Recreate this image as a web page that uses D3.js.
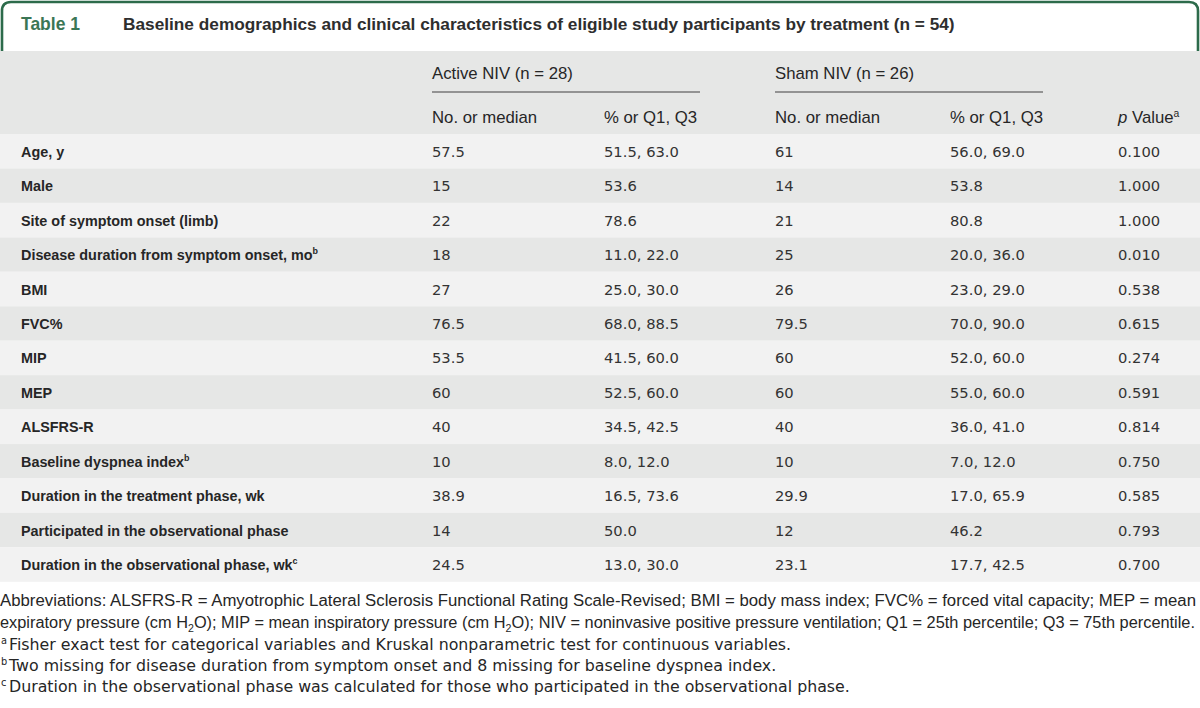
<!DOCTYPE html>
<html><head><meta charset="utf-8">
<script src="https://cdn.jsdelivr.net/npm/d3@7"></script>
<style>body{margin:0;background:#fff}svg{display:block}</style>
</head><body>
<svg id="c" width="1200" height="708"></svg>
<script>
// ---------- data ----------
const tableLabel = "Table 1";
const tableTitle = "Baseline demographics and clinical characteristics of eligible study participants by treatment (n = 54)";
const groups = ["Active NIV (n = 28)", "Sham NIV (n = 26)"];
const columns = ["No. or median", "% or Q1, Q3", "No. or median", "% or Q1, Q3", "p Value"];
const labels = ["Age, y", "Male", "Site of symptom onset (limb)", "Disease duration from symptom onset, mo", "BMI", "FVC%", "MIP", "MEP", "ALSFRS-R", "Baseline dyspnea index", "Duration in the treatment phase, wk", "Participated in the observational phase", "Duration in the observational phase, wk"];
const labelSup = ["", "", "", "b", "", "", "", "", "", "b", "", "", "c"];
const activeNo = ["57.5", "15", "22", "18", "27", "76.5", "53.5", "60", "40", "10", "38.9", "14", "24.5"];
const activePct = ["51.5, 63.0", "53.6", "78.6", "11.0, 22.0", "25.0, 30.0", "68.0, 88.5", "41.5, 60.0", "52.5, 60.0", "34.5, 42.5", "8.0, 12.0", "16.5, 73.6", "50.0", "13.0, 30.0"];
const shamNo = ["61", "14", "21", "25", "26", "79.5", "60", "60", "40", "10", "29.9", "12", "23.1"];
const shamPct = ["56.0, 69.0", "53.8", "80.8", "20.0, 36.0", "23.0, 29.0", "70.0, 90.0", "52.0, 60.0", "55.0, 60.0", "36.0, 41.0", "7.0, 12.0", "17.0, 65.9", "46.2", "17.7, 42.5"];
const pValues = ["0.100", "1.000", "1.000", "0.010", "0.538", "0.615", "0.274", "0.591", "0.814", "0.750", "0.585", "0.793", "0.700"];
const abbrevLines = [
  ["Abbreviations: ALSFRS-R = Amyotrophic Lateral Sclerosis Functional Rating Scale-Revised; BMI = body mass index; FVC% = forced vital capacity; MEP = mean"],
  ["expiratory pressure (cm H", "2", "O); MIP = mean inspiratory pressure (cm H", "2", "O); NIV = noninvasive positive pressure ventilation; Q1 = 25th percentile; Q3 = 75th percentile."]
];
const noteMarks = ["a", "b", "c"];
const notes = [
  "Fisher exact test for categorical variables and Kruskal nonparametric test for continuous variables.",
  "Two missing for disease duration from symptom onset and 8 missing for baseline dyspnea index.",
  "Duration in the observational phase was calculated for those who participated in the observational phase."
];

// ---------- helpers ----------
const ctx = document.createElement("canvas").getContext("2d");
function fitSize(family, weight, text, target, base = 15) {
  ctx.font = `${weight} ${base}px ${family}`;
  return base * target / ctx.measureText(text).width;
}
const F_BOLD = "'Liberation Sans', Arial, sans-serif";
const F_VAL = "'DejaVu Sans', sans-serif";
const F_NARROW = "'Liberation Sans', Arial, sans-serif";
const F_NOTE = "'Liberation Sans', Arial, sans-serif";

const labelSize = fitSize(F_BOLD, "bold", "Disease duration from symptom onset, mo", 292);
const valSize = fitSize(F_VAL, "normal", "56.0, 69.0", 75);
const headSize = fitSize(F_NARROW, "normal", "Active NIV (n = 28)", 141);
const titleSize = fitSize(F_BOLD, "bold", tableTitle, 832);
const tagSize = fitSize(F_BOLD, "bold", tableLabel, 59);
const noteSize = fitSize(F_VAL, "normal", notes[0], 783);

const svg = d3.select("#c");
const W = 1200;
const green = "#2d6b4b";
const dark = "#e6e7e6", light = "#f2f2f2", txt = "#262626";

// ---------- scales ----------
const headTop = 51, bodyTop = 134, rowH = 34.45;
const y = d3.scaleBand().domain(d3.range(labels.length))
  .range([bodyTop, bodyTop + rowH * labels.length]).paddingInner(0).paddingOuter(0);
const x = d3.scaleOrdinal().domain(["label", "aNo", "aPct", "sNo", "sPct", "p"])
  .range([21, 432, 604, 775, 950, 1118]);

// ---------- frame ----------
const r = 9;
svg.append("path")
  .attr("d", `M2,${headTop} L2,${2 + r} Q2,2 ${2 + r},2 L${W - 2 - r},2 Q${W - 2},2 ${W - 2},${2 + r} L${W - 2},${headTop}`)
  .attr("fill", "none").attr("stroke", green).attr("stroke-width", 2.6);

svg.append("text").attr("x", 21).attr("y", 30)
  .attr("font-family", F_BOLD).attr("font-weight", "bold").attr("font-size", tagSize)
  .attr("fill", "#3b7655").text(tableLabel);
svg.append("text").attr("x", 123).attr("y", 30)
  .attr("font-family", F_BOLD).attr("font-weight", "bold").attr("font-size", titleSize)
  .attr("fill", "#2e2e2e").text(tableTitle);

// header band
svg.append("rect").attr("x", 0).attr("y", headTop).attr("width", W).attr("height", bodyTop - headTop).attr("fill", dark);

// group headers + rules
const groupStarts = [x("aNo"), x("sNo")];
const groupEnds = [700, 1043];
groups.forEach((g, i) => {
  svg.append("text").attr("x", groupStarts[i]).attr("y", 79)
    .attr("font-family", F_NARROW).attr("font-size", headSize).attr("fill", txt).text(g);
  svg.append("line").attr("x1", groupStarts[i]).attr("x2", groupEnds[i]).attr("y1", 92).attr("y2", 92)
    .attr("stroke", "#777").attr("stroke-width", 1.6);
});
// column headers
const colKeys = ["aNo", "aPct", "sNo", "sPct", "p"];
columns.forEach((c, i) => {
  const t = svg.append("text").attr("x", x(colKeys[i])).attr("y", 123)
    .attr("font-family", F_NARROW).attr("font-size", headSize).attr("fill", txt);
  if (c === "p Value") {
    t.append("tspan").attr("font-style", "italic").text("p");
    t.append("tspan").text(" Value");
    t.append("tspan").attr("font-size", headSize * 0.62).attr("dy", -6).text("a");
  } else t.text(c);
});

// ---------- body ----------
const rows = svg.append("g").selectAll("g").data(labels).join("g")
  .attr("transform", (d, i) => `translate(0,${y(i)})`);
rows.append("rect").attr("x", 0).attr("width", W).attr("height", y.bandwidth())
  .attr("fill", (d, i) => i % 2 === 0 ? light : dark);
const baseY = y.bandwidth() / 2 + 5.5;
const lab = rows.append("text").attr("x", x("label")).attr("y", baseY)
  .attr("font-family", F_BOLD).attr("font-weight", "bold").attr("font-size", labelSize).attr("fill", txt);
lab.append("tspan").text(d => d);
lab.append("tspan").attr("font-size", labelSize * 0.62).attr("dy", -6).text((d, i) => labelSup[i]);

const series = [["aNo", activeNo], ["aPct", activePct], ["sNo", shamNo], ["sPct", shamPct], ["p", pValues]];
series.forEach(([k, arr]) => {
  rows.append("text").attr("x", x(k)).attr("y", baseY)
    .attr("font-family", F_VAL).attr("font-size", valSize).attr("fill", "#333")
    .text((d, i) => arr[i]);
});

// ---------- footnotes ----------
const abbrevSize = 15.8;
const abY = [606, 628];
abbrevLines.forEach((parts, li) => {
  const t = svg.append("text").attr("x", 0).attr("y", abY[li])
    .attr("font-family", F_NOTE).attr("font-size", abbrevSize).attr("fill", txt)
    .attr("textLength", li === 0 ? 1196 : 1195).attr("lengthAdjust", "spacingAndGlyphs");
  parts.forEach((p, j) => {
    const ts = t.append("tspan").text(p);
    if (j % 2 === 1) ts.attr("font-size", abbrevSize * 0.65).attr("dy", 4);
    else if (j > 0) ts.attr("dy", -4);
  });
});
const noteY = [650, 671, 692];
notes.forEach((n, i) => {
  svg.append("text").attr("x", 1).attr("y", noteY[i] - 6)
    .attr("font-family", F_VAL).attr("font-size", noteSize * 0.62).attr("fill", txt).text(noteMarks[i]);
  svg.append("text").attr("x", 9).attr("y", noteY[i])
    .attr("font-family", F_VAL).attr("font-size", noteSize).attr("fill", txt).text(n);
});
</script>
</body></html>
